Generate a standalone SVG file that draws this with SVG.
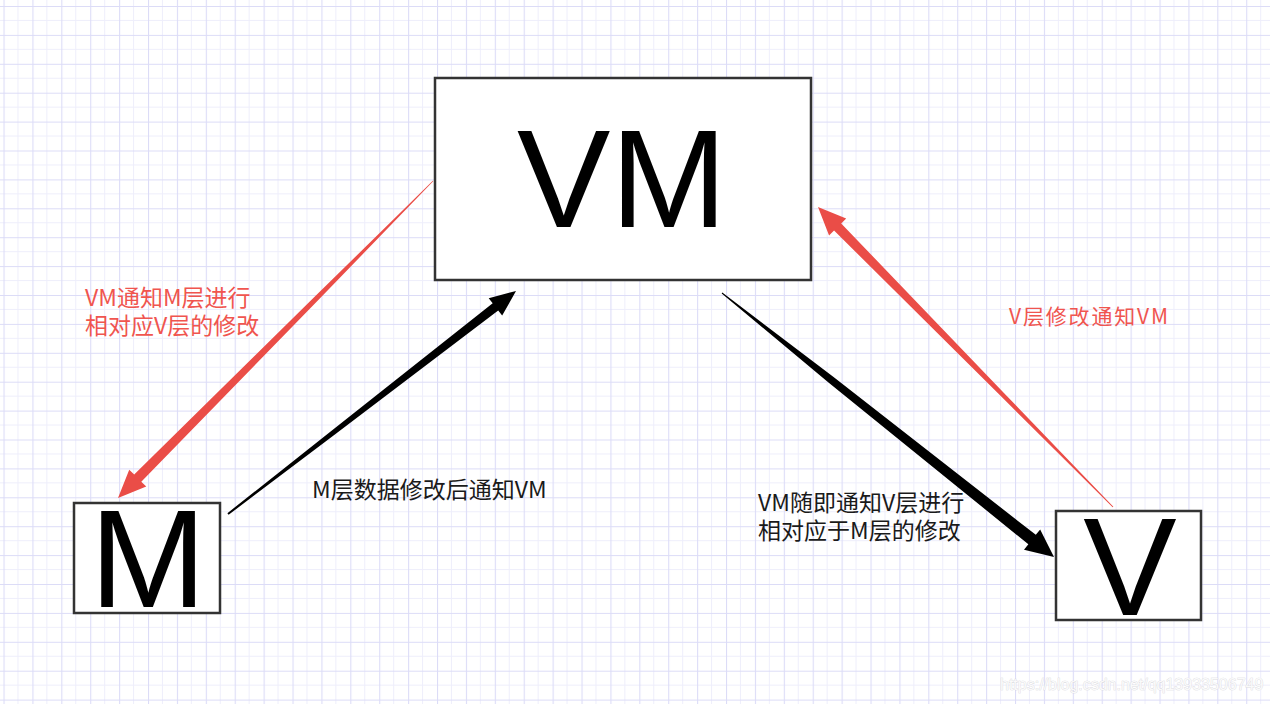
<svg xmlns="http://www.w3.org/2000/svg" width="1270" height="704" viewBox="0 0 1270 704">
<defs>
<pattern id="grid" patternUnits="userSpaceOnUse" x="3.5" y="6" width="28.9" height="28.9">
<path d="M14.45 0V28.9M0 14.45H28.9" stroke="#eeeefb" stroke-width="1" fill="none"/>
<path d="M0.5 0V28.9M0 0.5H28.9" stroke="#dcdcf7" stroke-width="1.2" fill="none"/>
</pattern>
</defs>
<style>
.box{fill:#ffffff;stroke:#333333;stroke-width:2.5}
.big{font-family:"Liberation Sans",Arial,sans-serif;font-size:140px;fill:#000000;text-anchor:middle}
.lbl{font-family:"Noto Sans CJK SC","Liberation Sans",sans-serif;font-size:23px}
.red{fill:#f0554f}
.blk{fill:#1a1a1a}
.ra{fill:#ea4d47}
.ba{fill:#000000}
.wm{font-family:"Liberation Sans",Arial,sans-serif;font-size:16px;fill:#fafafa;stroke:#d2d2d8;stroke-width:0.6;paint-order:stroke}
</style>
<rect width="1270" height="704" fill="#ffffff"/>
<rect width="1270" height="704" fill="url(#grid)"/>

<g id="connectors">
<polygon class="ra" points="433.21,181.21 316.87,301.62 141.29,481.66 146.25,486.60 118,498 129.23,469.68 134.19,474.62 313.33,298.10 432.79,180.79"/>
<polygon class="ba" points="228.61,514.79 336.51,433.15 498.20,310.48 502.18,315.62 516,291 488.70,298.22 492.68,303.36 333.45,429.19 227.39,513.21"/>
<polygon class="ba" points="721.69,293.39 828.16,382.32 1028.35,544.27 1024.00,549.75 1054,557 1040.17,529.39 1035.81,534.87 832.90,376.38 722.31,292.61"/>
<polygon class="ra" points="1113.36,506.65 1004.42,393.45 841.20,223.46 846.19,218.56 818,207 829.07,235.38 834.06,230.48 1001.28,396.53 1112.64,507.35"/>
</g>

<g id="node-vm">
<rect class="box" x="435" y="78" width="376" height="202"/>
<text class="big" x="622" y="227">VM</text>
</g>

<g id="node-m">
<rect class="box" x="74" y="503" width="146" height="110"/>
<text class="big" x="148" y="607">M</text>
</g>

<g id="node-v">
<rect class="box" x="1056" y="511" width="145" height="109"/>
<text class="big" x="1130" y="615">V</text>
</g>

<g id="labels">
<text class="lbl red" x="85" y="306">VM通知M层进行</text>
<text class="lbl red" x="85" y="334">相对应V层的修改</text>
<text class="lbl blk" x="312" y="498">M层数据修改后通知VM</text>
<text class="lbl blk" x="758" y="511">VM随即通知V层进行</text>
<text class="lbl blk" x="758" y="539">相对应于M层的修改</text>
<text class="lbl red" x="1009" y="324" style="font-size:21px" textLength="159" lengthAdjust="spacing">V层修改通知VM</text>
</g>

<text class="wm" x="1000" y="690">https://blog.csdn.net/qq13933506749</text>
</svg>
